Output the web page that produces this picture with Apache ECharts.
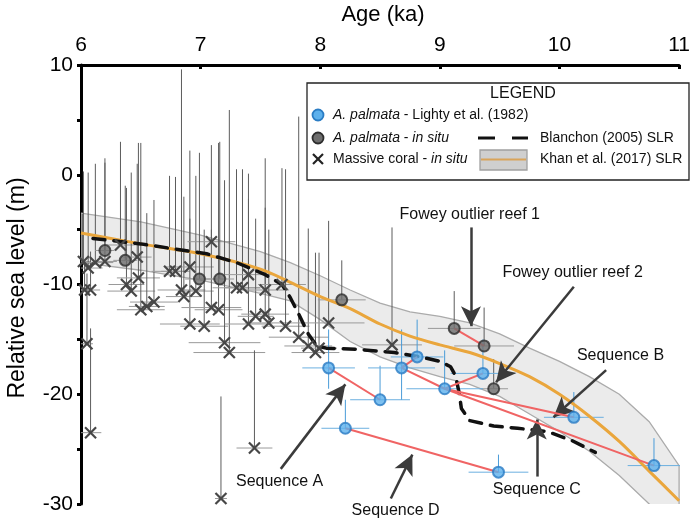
<!DOCTYPE html>
<html><head><meta charset="utf-8">
<script src="https://cdn.jsdelivr.net/npm/echarts@6/dist/echarts.min.js"></script>
<style>html,body{margin:0;padding:0;background:#fff}#c{width:693px;height:523px}</style>
</head><body><div id="c"></div>
<script>
// ---------- DATA ----------
const xTicks = [6, 7, 8, 9, 10, 11];
const yTicks = [-30, -20, -10, 0, 10];
// Khan et al. (2017) SLR: age, central, upper, lower
const khanAge   = [6.0, 6.5, 7.0, 7.5, 7.75, 8.0, 8.25, 8.5, 8.75, 9.0, 9.25, 9.5, 9.75, 10.0, 10.25, 10.5, 10.75, 11.0];
const khanMid   = [-5.3, -6.3, -7.2, -8.6, -9.8, -11.1, -12.2, -13.6, -14.7, -15.5, -16.2, -17.2, -18.4, -20.0, -22.0, -24.3, -27.0, -29.7];
const khanUpper = [-3.5, -4.3, -5.5, -7.0, -8.0, -9.2, -10.5, -11.7, -12.5, -12.9, -13.5, -14.5, -15.8, -17.0, -18.4, -20.0, -22.5, -26.5];
const khanLower = [-8.0, -8.7, -9.6, -10.8, -11.5, -13.2, -15.2, -16.6, -17.6, -18.4, -19.1, -20.2, -21.8, -23.4, -25.2, -27.4, -30.0, -32.5];
// Blanchon (2005) SLR
const blanchon = [[6.1,-5.8],[6.5,-6.3],[7.05,-7.2],[7.3,-8.0],[7.54,-9.1],[7.68,-10.0],[7.75,-11.2],[7.82,-12.7],[7.9,-14.5],[7.97,-15.6],[8.05,-15.8],[8.3,-15.9],[8.62,-16.2],[8.84,-16.6],[9.0,-17.0],[9.09,-17.5],[9.13,-18.3],[9.16,-19.8],[9.18,-21.3],[9.25,-22.4],[9.45,-22.9],[9.65,-23.1],[9.9,-23.4],[10.1,-24.2],[10.3,-25.3]];
// [age, level, ageErr, topLevel, bottomLevel]
const massiveCoral = [
 [6.02,-7.9,0.06,0.3,-7.9],[6.06,-8.5,0.12,0.2,-8.5],[6.03,-10.5,0.05,-8.0,-10.5],[6.08,-10.5,0.08,-7.0,-10.5],
 [6.05,-15.4,0.05,-9.0,-15.4],[6.08,-23.5,0.09,-14.0,-23.5],[6.12,-8.0,0.15,1.0,-8.0],[6.20,-7.9,0.10,1.1,-7.9],
 [6.33,-6.4,0.12,3.0,-6.4],[6.38,-10.0,0.15,-1.2,-10.0],[6.42,-10.6,0.20,0.2,-10.6],[6.47,-7.5,0.12,1.0,-7.5],
 [6.48,-9.4,0.18,2.9,-9.4],[6.50,-12.3,0.20,2.9,-12.3],[6.55,-12.0,0.15,-3.5,-12.0],[6.61,-11.6,0.2,-2.3,-11.6],
 [6.74,-8.8,0.15,-0.1,-8.8],[6.79,-8.8,0.12,-0.2,-8.8],[6.84,-10.5,0.2,9.6,-10.5],[6.86,-11.1,0.15,-2.0,-11.1],
 [6.91,-8.4,0.2,2.2,-8.4],[6.96,-10.6,0.15,-0.1,-10.6],[6.91,-13.6,0.25,-4.0,-13.6],[7.03,-13.8,0.2,-5.0,-13.8],
 [7.09,-6.1,0.2,2.7,-6.1],[7.15,-12.3,0.2,2.9,-12.3],[7.09,-12.1,0.25,-5.0,-12.1],[7.20,-15.3,0.3,-0.5,-15.3],
 [7.24,-16.2,0.3,5.9,-16.2],[7.30,-10.3,0.2,0.5,-10.3],[7.35,-10.3,0.15,0.5,-10.3],[7.40,-9.1,0.2,0.1,-9.1],
 [7.40,-13.6,0.2,-2.2,-13.6],[7.46,-12.9,0.15,-4.0,-12.9],[7.54,-12.7,0.2,1.5,-12.7],[7.54,-10.5,0.2,-3.0,-10.5],
 [7.57,-13.5,0.2,-5.0,-13.5],[7.68,-10.0,0.2,0.6,-10.0],[7.71,-13.8,0.2,0.5,-13.8],[7.45,-24.9,0.15,-16.0,-24.9],
 [7.17,-29.5,0.05,-20.2,-29.5],[7.82,-14.8,0.25,5.3,-14.8],[7.90,-15.6,0.2,-4.9,-15.6],[7.96,-16.2,0.2,-7.1,-16.2],
 [7.99,-15.8,0.15,-7.1,-15.8],[8.07,-13.5,0.3,-4.2,-13.5],[8.60,-15.5,0.25,-4.8,-15.5]
];
const palmataInSitu = [
 [6.20,-6.9,0.08,1.5,-6.9],[6.37,-7.8,0.1,-1.0,-7.8],[6.99,-9.5,0.12,2.0,-9.5],[7.16,-9.5,0.12,3.0,-9.5],
 [8.18,-11.4,0.2,-7.8,-11.4],[9.12,-14.0,0.22,-10.6,-14.0],[9.37,-15.6,0.25,-12.1,-15.6],[9.45,-19.5,0.12,-16.8,-19.5]
];
const palmataLighty = [
 [8.07,-17.6,0.22,-14.1,-19.5],[8.50,-20.5,0.25,-17.4,-20.5],[8.21,-23.1,0.2,-20.5,-23.1],[9.49,-27.1,0.25,-25.5,-27.1],
 [8.68,-17.6,0.28,-14.1,-20.5],[8.81,-16.6,0.22,-13.2,-16.6],[9.04,-19.5,0.32,-16.0,-19.5],[9.36,-18.1,0.27,-15.0,-18.1],
 [10.12,-22.1,0.25,-19.8,-22.1],[10.79,-26.5,0.22,-24.0,-26.5]
];
const seqA = [[8.07,-17.6],[8.50,-20.5]];
const seqD = [[8.21,-23.1],[9.49,-27.1]];
const seqB = [[8.81,-16.6],[8.68,-17.6],[9.04,-19.5],[10.79,-26.5]];
const seqC = [[9.36,-18.1],[9.04,-19.5],[10.12,-22.1]];
const fowey1 = [[9.12,-14.0],[9.37,-15.6]];
// annotations: text, text position, arrow start, arrow tip
const annotations = [
 {text:'Fowey outlier reef 1', at:[9.25,-3.6], from:[9.26,-4.8], to:[9.26,-13.8]},
 {text:'Fowey outlier reef 2', at:[10.11,-8.9], from:[10.12,-10.2], to:[9.47,-18.9]},
 {text:'Sequence B', at:[10.51,-16.5], from:[10.39,-17.8], to:[9.95,-22.1]},
 {text:'Sequence C', at:[9.81,-28.7], from:[9.81,-27.5], to:[9.81,-22.3]},
 {text:'Sequence D', at:[8.63,-30.6], from:[8.59,-29.5], to:[8.77,-25.5]},
 {text:'Sequence A', at:[7.66,-28.0], from:[7.67,-26.8], to:[8.21,-19.1]}
];

// ---------- CHART ----------
const FONT = "'Liberation Sans', Arial, Helvetica, sans-serif";
const chart = echarts.init(document.getElementById('c'), null, {renderer:'canvas'});

function errRender(vColor, hColor){
  return function(params, api){
    const a=api.value(0), l=api.value(1), e=api.value(2), t=api.value(3), b=api.value(4);
    const pT=api.coord([a,t]), pB=api.coord([a,b]), pL=api.coord([a-e,l]), pR=api.coord([a+e,l]);
    return {type:'group', children:[
      {type:'line', shape:{x1:pT[0],y1:pT[1],x2:pB[0],y2:pB[1]}, style:{stroke:vColor,lineWidth:1}},
      {type:'line', shape:{x1:pL[0],y1:pL[1],x2:pR[0],y2:pR[1]}, style:{stroke:hColor,lineWidth:1}}
    ]};
  };
}
function xMarker(params, api){
  const p=api.coord([api.value(0), api.value(1)]); const s=5.5;
  return {type:'group', children:[
    {type:'line', shape:{x1:p[0]-s,y1:p[1]-s,x2:p[0]+s,y2:p[1]+s}, style:{stroke:'#474747',lineWidth:2.2}},
    {type:'line', shape:{x1:p[0]-s,y1:p[1]+s,x2:p[0]+s,y2:p[1]-s}, style:{stroke:'#474747',lineWidth:2.2}}
  ]};
}
function bandRender(params, api){
  const pts=[];
  for(let i=0;i<khanAge.length;i++) pts.push(api.coord([khanAge[i], khanUpper[i]]));
  for(let i=khanAge.length-1;i>=0;i--) pts.push(api.coord([khanAge[i], khanLower[i]]));
  return {type:'polygon', shape:{points:pts}, style:{fill:'rgba(215,215,215,0.5)', stroke:'#ababab', lineWidth:1.3}};
}
const redStyle = {color:'#f06464', width:2};
function redLine(d){ return {type:'line', data:d, symbol:'none', lineStyle:redStyle, z:5, silent:true}; }

const option = {
  animation:false,
  grid:{left:81, right:10, top:65, bottom:19},
  xAxis:{type:'value', position:'top', min:6, max:11, interval:1,
    axisLine:{show:true, onZero:false, lineStyle:{color:'#000', width:3}},
    axisTick:{show:true, inside:true, length:4, lineStyle:{color:'#000', width:3}},
    axisLabel:{fontSize:21, color:'#000', margin:9, fontFamily:FONT, formatter:v=> xTicks.includes(v)? String(v):''},
    splitLine:{show:false}},
  yAxis:{type:'value', min:-30, max:10, interval:5,
    axisLine:{show:true, onZero:false, lineStyle:{color:'#000', width:3}},
    axisTick:{show:true, length:4, lineStyle:{color:'#000', width:3}},
    axisLabel:{fontSize:21, color:'#000', margin:8, fontFamily:FONT, formatter:v=> yTicks.includes(v)? String(v):''},
    splitLine:{show:false}},
  series:[
    {type:'custom', renderItem:bandRender, data:[[6,-5]], encode:{x:0,y:1}, clip:true, z:1, silent:true},
    {type:'custom', renderItem:errRender('#5c5c5c','#9a9a9a'), data:massiveCoral, encode:{x:0,y:1}, clip:true, z:2, silent:true},
    {type:'custom', renderItem:errRender('#5c5c5c','#9a9a9a'), data:palmataInSitu, encode:{x:0,y:1}, clip:true, z:2, silent:true},
    {type:'custom', renderItem:errRender('#4a9cd8','#6cb0e0'), data:palmataLighty, encode:{x:0,y:1}, clip:true, z:2, silent:true},
    {type:'line', data:khanAge.map((a,i)=>[a,khanMid[i]]), symbol:'none', smooth:0.3, lineStyle:{color:'#eaa63c', width:3}, z:3, silent:true},
    {type:'line', data:blanchon, symbol:'none', lineStyle:{color:'#111', width:3.5, type:[12,9], cap:'round'}, z:4, silent:true},
    redLine(seqA), redLine(seqD), redLine(seqB), redLine(seqC), redLine(fowey1),
    {type:'custom', renderItem:xMarker, data:massiveCoral, encode:{x:0,y:1}, z:6, silent:true},
    {type:'scatter', data:palmataInSitu.map(d=>[d[0],d[1]]), symbol:'circle', symbolSize:11,
      itemStyle:{color:'#6e6e6e', borderColor:'#2e2e2e', borderWidth:2}, z:7, silent:true},
    {type:'scatter', data:palmataLighty.map(d=>[d[0],d[1]]), symbol:'circle', symbolSize:11,
      itemStyle:{color:'#5cb0ec', borderColor:'#2a7cc4', borderWidth:2}, z:7, silent:true},
    {type:'line', data:[], z:8, silent:true,
      markLine:{silent:true, symbol:['none','arrow'], symbolSize:[15,20], animation:false, label:{show:false},
        lineStyle:{color:'#3b3b3b', width:2.5, type:'solid'},
        data:annotations.map(a=>[{coord:a.from},{coord:a.to}])}}
  ]
};
chart.setOption(option);

// ---------- GRAPHIC: titles, annotation text, legend ----------
const g = [];
g.push({type:'text', position:[383,15], style:{text:'Age (ka)', font:'22px '+FONT, fill:'#000', textAlign:'center', textVerticalAlign:'middle'}});
g.push({type:'text', position:[18,288], rotation:Math.PI/2, style:{text:'Relative sea level (m)', font:'23px '+FONT, fill:'#000', textAlign:'center', textVerticalAlign:'middle'}});
annotations.forEach(a=>{
  const p = chart.convertToPixel({gridIndex:0}, a.at);
  g.push({type:'text', position:p, z:100, style:{text:a.text, font:'16px '+FONT, fill:'#111', textAlign:'center', textVerticalAlign:'middle'}});
});
// legend
const ital = {i:{fontStyle:'italic', fontSize:14, fontFamily:FONT, fill:'#111'}};
const lg = {type:'group', z:200, children:[
  {type:'rect', shape:{x:307,y:83,width:382,height:97}, style:{fill:'#fff', stroke:'#222', lineWidth:1.3}},
  {type:'text', position:[523,94], style:{text:'LEGEND', font:'16px '+FONT, fill:'#111', textAlign:'center', textVerticalAlign:'middle'}},
  {type:'circle', shape:{cx:318,cy:115,r:5.5}, style:{fill:'#5cb0ec', stroke:'#2a7cc4', lineWidth:1.8}},
  {type:'text', position:[333,115], style:{text:'{i|A. palmata} - Lighty et al. (1982)', font:'14px '+FONT, fill:'#111', textVerticalAlign:'middle', rich:ital}},
  {type:'circle', shape:{cx:318,cy:138,r:5.5}, style:{fill:'#6e6e6e', stroke:'#2e2e2e', lineWidth:1.8}},
  {type:'text', position:[333,138], style:{text:'{i|A. palmata} - {i|in situ}', font:'14px '+FONT, fill:'#111', textVerticalAlign:'middle', rich:ital}},
  {type:'line', shape:{x1:478,y1:138,x2:495,y2:138}, style:{stroke:'#111', lineWidth:3}},
  {type:'line', shape:{x1:512,y1:138,x2:528,y2:138}, style:{stroke:'#111', lineWidth:3}},
  {type:'text', position:[540,138], style:{text:'Blanchon (2005) SLR', font:'14px '+FONT, fill:'#111', textVerticalAlign:'middle'}},
  {type:'line', shape:{x1:313,y1:154,x2:323,y2:164}, style:{stroke:'#222', lineWidth:2.2}},
  {type:'line', shape:{x1:313,y1:164,x2:323,y2:154}, style:{stroke:'#222', lineWidth:2.2}},
  {type:'text', position:[333,159], style:{text:'Massive coral - {i|in situ}', font:'14px '+FONT, fill:'#111', textVerticalAlign:'middle', rich:ital}},
  {type:'rect', shape:{x:480,y:150,width:47,height:20}, style:{fill:'#cfcfcf', stroke:'#a0a0a0', lineWidth:1.3}},
  {type:'line', shape:{x1:481,y1:159.5,x2:526,y2:159.5}, style:{stroke:'#d9a45a', lineWidth:2}},
  {type:'text', position:[540,159], style:{text:'Khan et al. (2017) SLR', font:'14px '+FONT, fill:'#111', textVerticalAlign:'middle'}}
]};
g.push(lg);
chart.setOption({graphic:g});
</script></body></html>
